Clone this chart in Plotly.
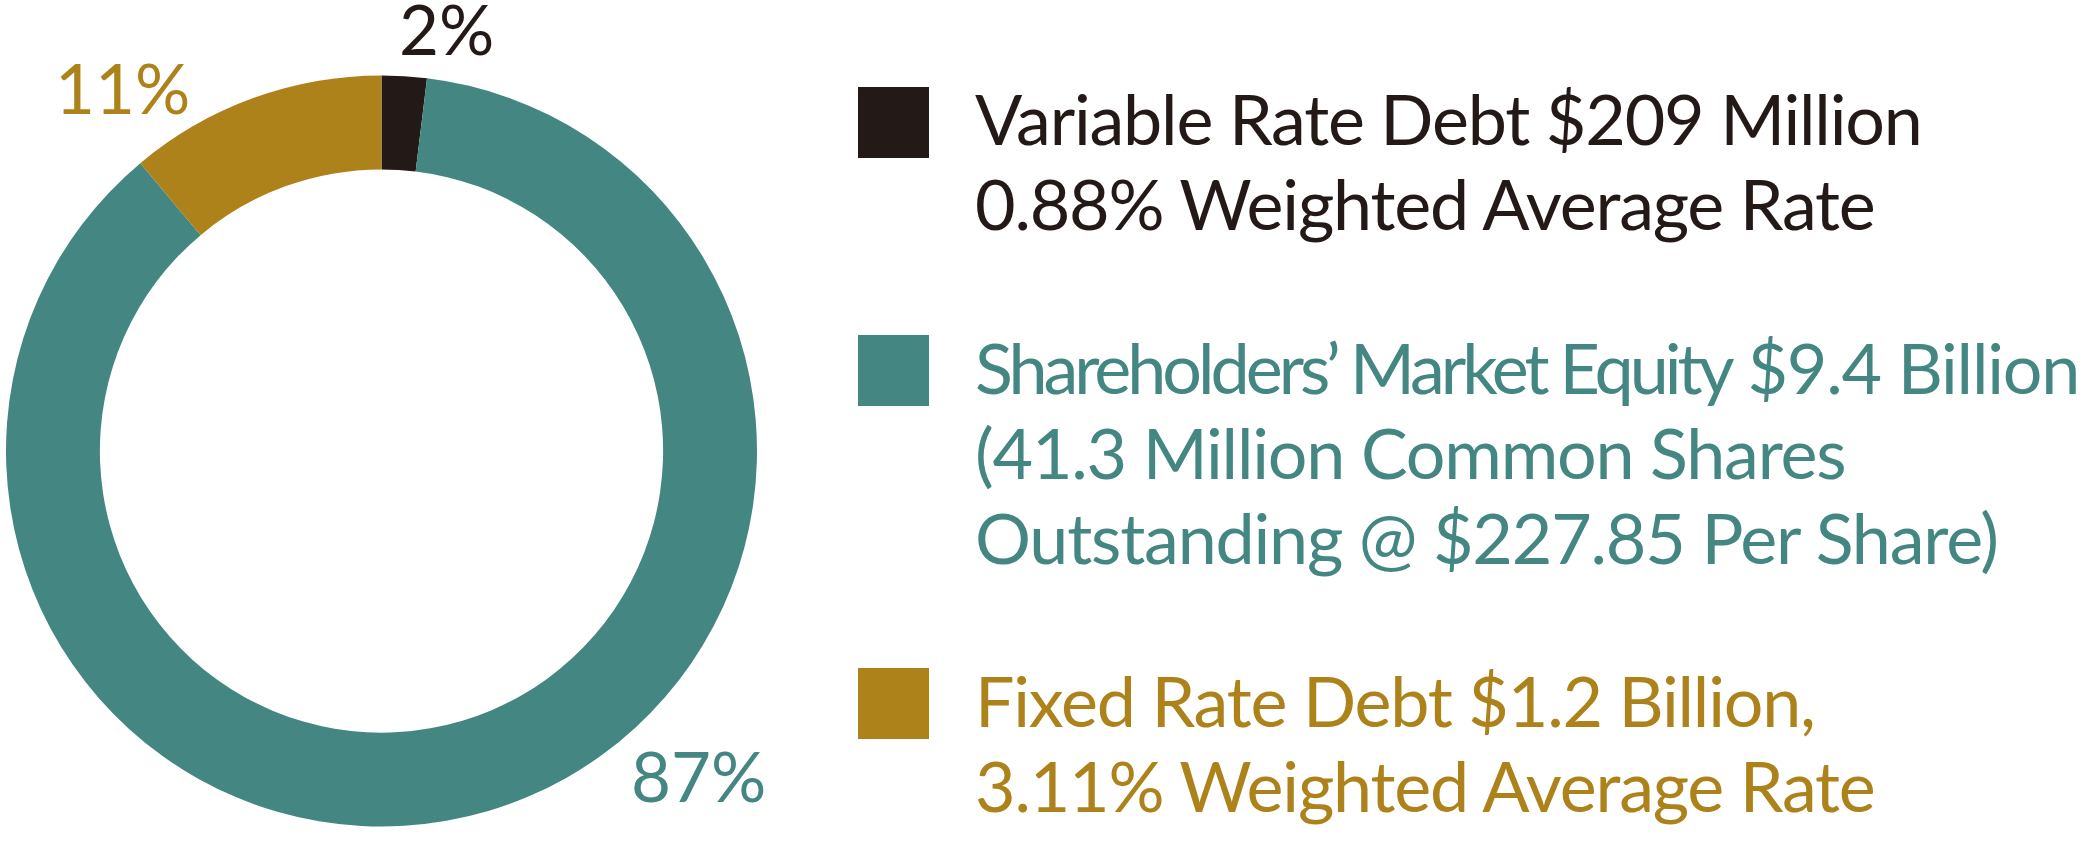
import plotly.graph_objects as go

# ---- data ----
categories = ["Variable Rate Debt", "Shareholders' Market Equity", "Fixed Rate Debt"]
values_billion = [0.209, 9.4, 1.2]
colors = ["#231916", "#448682", "#AD821A"]
legend_lines = [
    [["Variable Rate Debt $209 Million"], ["0.88% Weighted Average Rate"]],
    [["Shareholders\u2019 Market Equity", " $9.4 Billion"],
     ["(41.3 Million Common Shares"],
     ["Outstanding @ $227.85 Per Share)"]],
    [["Fixed Rate Debt $1.2 Billion,"], ["3.11% Weighted Average Rate"]],
]

W, H = 2100, 849
FONT = "Lato"

total = sum(values_billion)
pct_text = [f"{round(v / total * 100)}%" for v in values_billion]

fig = go.Figure()
fig.add_trace(go.Pie(
    labels=categories,
    values=values_billion,
    hole=0.75,
    sort=False,
    direction="clockwise",
    rotation=0,
    marker=dict(colors=colors, line=dict(width=0)),
    textinfo="none",
    hoverinfo="label+percent",
    showlegend=False,
    domain=dict(x=[6 / W, 757 / W], y=[1 - 827 / H, 1 - 75 / H]),
))

def px(x):
    return x / W

def py(y):
    return 1 - y / H

annotations = []
# percentage labels (pixel centres), same order as categories
pct_pos = [(446, 28), (698, 775), (122, 87)]
for t, (x, y), c in zip(pct_text, pct_pos, colors):
    annotations.append(dict(
        text=t, x=px(x), y=py(y), xref="paper", yref="paper",
        xanchor="center", yanchor="middle", showarrow=False,
        font=dict(family=FONT, size=69, color=c),
    ))

# legend
square_tops = [87, 335, 668]
first_baselines = [147, 396, 729]
line_gap = 85
fs = 70
shapes = []
for i, lines in enumerate(legend_lines):
    shapes.append(dict(
        type="rect", xref="paper", yref="paper",
        x0=px(858), x1=px(929), y0=py(square_tops[i] + 71), y1=py(square_tops[i]),
        fillcolor=colors[i], line=dict(width=0),
    ))
    for j, parts in enumerate(lines):
        baseline = first_baselines[i] + j * line_gap
        center = baseline - 29
        if len(parts) == 2:
            html = (f'<span style="letter-spacing:-4.0px">{parts[0]}</span>'
                    f'<span style="letter-spacing:-1.2px">{parts[1]}</span>')
        else:
            html = f'<span style="letter-spacing:-1.2px">{parts[0]}</span>'
        annotations.append(dict(
            text=html,
            x=px(973), y=py(center), xref="paper", yref="paper",
            xanchor="left", yanchor="middle", showarrow=False,
            font=dict(family=FONT, size=fs, color=colors[i]),
        ))

fig.update_layout(
    width=W, height=H,
    margin=dict(l=0, r=0, t=0, b=0),
    paper_bgcolor="white", plot_bgcolor="white",
    annotations=annotations, shapes=shapes,
)

fig.write_html("out.html", config={"displayModeBar": False},
               post_script="document.body.style.margin='0';")
